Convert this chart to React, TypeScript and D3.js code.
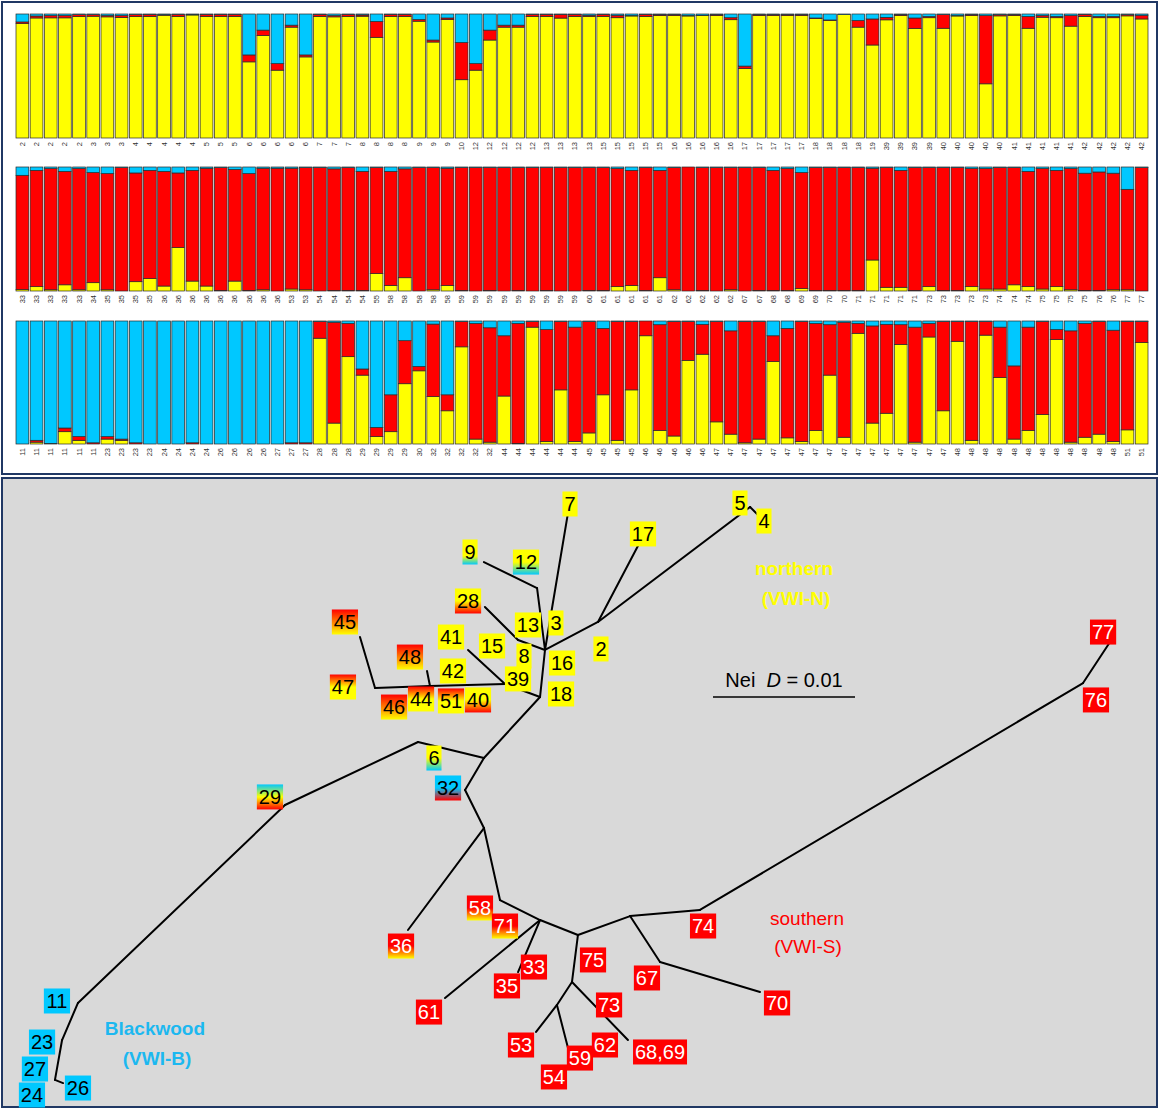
import * as d3 from 'd3';

// ---------- colours ----------
const YEL = '#ffff00';
const RED = '#ff0000';
const CYA = '#00c8ff';
const NAVY = '#203864';
const FONT = '"Liberation Sans", Arial, sans-serif';

// ---------- bar plot data (three rows of 80 individuals) ----------
const row1Groups: [string, number][] = [
  ['2', 5], ['3', 3], ['4', 5], ['5', 3], ['6', 5], ['7', 3], ['8', 4], ['9', 3], ['10', 1],
  ['12', 5], ['13', 4], ['15', 5], ['16', 5], ['17', 5], ['18', 4], ['19', 1], ['39', 4],
  ['40', 5], ['41', 5], ['42', 5],
];
const row2Groups: [string, number][] = [
  ['33', 5], ['34', 1], ['35', 4], ['36', 9], ['53', 2], ['54', 4], ['55', 1], ['58', 5],
  ['59', 9], ['60', 1], ['61', 5], ['62', 5], ['67', 2], ['68', 2], ['69', 2], ['70', 2],
  ['71', 5], ['73', 5], ['74', 3], ['75', 4], ['76', 2], ['77', 2],
];
const row3Groups: [string, number][] = [
  ['11', 6], ['23', 4], ['24', 4], ['26', 4], ['27', 3], ['28', 3], ['29', 4], ['30', 1],
  ['32', 5], ['44', 6], ['45', 4], ['46', 5], ['47', 17], ['48', 12], ['51', 2],
];

// yellow (bottom) and cyan (top) proportions; red fills the rest
const row1Yellow = [
  .923, .968, .969, .969, .979, .982, .977, .971, .979, .981,
  .99, .981, .992, .981, .981, .981, .614, .827, .547, .894,
  .654, .981, .977, .981, .982, .812, .981, .981, .942, .774,
  .955, .47, .547, .79, .894, .894, .981, .981, .967, .981,
  .98, .981, .97, .984, .981, .987, .987, .984, .987, .987,
  .954, .56, .987, .987, .987, .987, .963, .949, .995, .894,
  .75, .953, .987, .883, .97, .885, .984, .987, .437, .985,
  .987, .885, .974, .97, .902, .981, .97, .97, .985, .96,
];
const row1Cyan = [
  .064, .016, .013, .013, .005, .005, .013, .013, .005, .003,
  .005, .003, .003, .003, .003, .003, .33, .13, .40, .09,
  .33, .003, .013, .003, .008, .06, .003, .003, .045, .21,
  .032, .23, .40, .13, .09, .09, .003, .003, .003, .003,
  .01, .003, .01, .013, .003, .003, .003, .013, .01, .003,
  .03, .42, .003, .003, .003, .003, .032, .048, .005, .053,
  .04, .027, .003, .032, .02, .005, .013, .003, .013, .005,
  .003, .02, .013, .02, .013, .003, .02, .02, .005, .01,
];
const row2Yellow = [
  .013, .035, .01, .05, .01, .067, .01, 0, .075, .10,
  .04, .35, .08, .04, .005, .08, .005, .01, 0, .016,
  .01, 0, .005, .005, .005, .14, .045, .107, 0, .01,
  .045, .005, 0, .005, 0, .005, 0, .005, 0, 0,
  .005, .005, .035, .045, .005, .107, .01, 0, .005, 0,
  .01, 0, .005, .005, .005, .02, .005, .005, .005, .005,
  .25, .03, .03, .005, .035, .005, .005, .035, .016, .016,
  .05, .035, .016, .035, .01, .005, .005, .01, .01, 0,
];
const row2Cyan = [
  .067, .027, .013, .035, .013, .045, .053, .005, .048, .027,
  .035, .048, .027, .01, .005, .02, .053, .01, .01, .01,
  .005, .005, .015, .005, .035, .005, .035, .015, .005, .005,
  .01, .005, .005, .005, .005, .005, .005, .005, .005, .005,
  .005, .005, .013, .027, .005, .027, .005, 0, .005, .005,
  .005, .005, .005, .027, .013, .045, .005, .005, .005, .005,
  .01, .005, .027, .005, .005, .005, .005, .013, .013, .005,
  .005, .035, .013, .027, .013, .05, .04, .05, .18, .005,
];
const row3Yellow = [
  0, .015, 0, .1, .03, 0, .04, .03, 0, 0,
  0, 0, 0, 0, 0, 0, 0, 0, 0, 0,
  0, .86, .17, .71, .56, .06, .1, .49, .595, .385,
  .27, .79, .04, .015, .39, .005, .95, .02, .44, .02,
  .09, .4, .03, .44, .88, .11, .065, .68, .73, .18,
  .08, .01, .04, .67, .05, .02, .11, .56, .055, .9,
  .17, .25, .81, .015, .87, .27, .835, .03, .885, .54,
  .04, .11, .24, .85, .015, .055, .08, .02, .115, .825,
];
const row3Cyan = [
  1, .97, .995, .87, .94, .99, .94, .96, .99, 1,
  1, 1, .99, 1, 1, 1, 1, 1, 1, .99,
  .99, .005, .01, .02, .39, .865, .6, .16, .37, .025,
  .6, .005, .02, .055, .12, .02, .005, .07, .005, .05,
  .005, .06, .005, .005, 0, .03, .005, .005, .027, .005,
  .08, .005, .005, .12, .06, .005, .02, .03, .01, .02,
  .04, .027, .03, .05, .02, .005, .005, .005, .005, .05,
  .365, .05, .005, .07, .08, .02, .005, .075, .005, .005,
];

// ---------- tree data (units of 0.001 Nei D) ----------
const treeNodes: [string, number, number][] = [
  ['h1', 37.89, 15.42], ['h0', 33.94, 19.72], ['b6', 29.30, 18.59], ['b29', 19.93, 23.03],
  ['bw', 5.35, 36.97], ['bw2', 4.23, 39.58], ['bw3', 3.73, 42.39], ['bw4', 4.30, 42.61],
  ['c32', 32.61, 21.97], ['c2', 33.94, 24.65], ['L36', 28.59, 31.83], ['s1', 35.07, 29.72],
  ['s2', 37.89, 31.13], ['L61', 31.20, 36.62], ['L35', 36.34, 34.79], ['s3', 40.56, 32.18],
  ['s8', 40.14, 35.49], ['n54', 39.08, 37.11], ['L53', 37.61, 39.01], ['L54', 39.86, 40.14],
  ['L68', 44.08, 39.58], ['s4', 44.23, 30.85], ['s5', 49.15, 30.42], ['s6', 76.13, 14.44],
  ['L77', 78.03, 11.55], ['s7', 46.34, 34.08], ['L70', 53.38, 36.20],
  ['n1', 38.24, 12.11], ['L7', 40.07, 1.20], ['n2', 41.97, 10.14], ['L17', 44.93, 4.51],
  ['n4', 52.68, 2.04], ['L4', 53.59, 2.96], ['n5', 37.68, 7.75], ['L9', 33.94, 5.92],
  ['n3', 36.34, 11.41], ['L28', 34.01, 9.08], ['n6', 35.42, 14.51], ['n7', 26.27, 14.79],
  ['n8', 30.14, 14.65], ['L48', 29.93, 13.59], ['L45', 25.21, 11.20], ['L41', 32.82, 12.11],
];
const treeEdges: [string, string][] = [
  ['h1', 'h0'], ['h0', 'b6'], ['b6', 'b29'], ['b29', 'bw'], ['bw', 'bw2'], ['bw2', 'bw3'],
  ['bw3', 'bw4'], ['h0', 'c32'], ['c32', 'c2'], ['c2', 'L36'], ['c2', 's1'], ['s1', 's2'],
  ['s2', 'L61'], ['s2', 'L35'], ['s2', 's3'], ['s3', 's8'], ['s8', 'n54'], ['n54', 'L53'],
  ['n54', 'L54'], ['s8', 'L68'], ['s3', 's4'], ['s4', 's5'], ['s5', 's6'], ['s6', 'L77'],
  ['s4', 's7'], ['s7', 'L70'], ['h1', 'n1'], ['n1', 'L7'], ['n1', 'n2'], ['n2', 'L17'],
  ['n2', 'n4'], ['n4', 'L4'], ['n1', 'n5'], ['n5', 'L9'], ['n1', 'n3'], ['n3', 'L28'],
  ['h1', 'n6'], ['n6', 'n8'], ['n8', 'n7'], ['n7', 'L45'], ['n8', 'L48'], ['n6', 'L41'],
];
// population label, position, ancestry colours top->bottom (Y/R/C), white text?
const popLabels: [string, number, number, string, boolean][] = [
  ['7', 40.0, 1.83, 'Y', false], ['17', 45.14, 3.94, 'Y', false], ['5', 51.97, 1.76, 'Y', false],
  ['4', 53.66, 3.03, 'Y', false], ['9', 32.96, 5.21, 'YYYC', false], ['12', 36.90, 5.92, 'YYC', false],
  ['28', 32.82, 8.66, 'YYR', false], ['13', 37.04, 10.35, 'Y', false], ['3', 39.01, 10.21, 'Y', false],
  ['15', 34.51, 11.83, 'Y', false], ['41', 31.62, 11.20, 'Y', false], ['8', 36.76, 12.54, 'Y', false],
  ['16', 39.44, 13.03, 'Y', false], ['2', 42.18, 12.04, 'Y', false], ['42', 31.76, 13.59, 'Y', false],
  ['39', 36.34, 14.15, 'Y', false], ['18', 39.37, 15.21, 'Y', false], ['48', 28.73, 12.61, 'RY', false],
  ['45', 24.15, 10.14, 'RY', false], ['47', 24.01, 14.72, 'RYY', false], ['46', 27.61, 16.13, 'RY', false],
  ['44', 29.51, 15.56, 'RYY', false], ['51', 31.62, 15.70, 'RYY', false], ['40', 33.52, 15.63, 'YYR', false],
  ['6', 30.42, 19.72, 'YYC', false], ['32', 31.41, 21.83, 'CCR', false], ['29', 18.87, 22.46, 'CYR', false],
  ['58', 33.66, 30.28, 'RRY', true], ['71', 35.42, 31.55, 'RRY', true], ['36', 28.10, 32.96, 'RRY', true],
  ['33', 37.46, 34.44, 'R', true], ['35', 35.56, 35.77, 'R', true], ['61', 30.07, 37.61, 'R', true],
  ['75', 41.62, 33.94, 'R', true], ['73', 42.75, 37.11, 'R', true], ['53', 36.55, 39.93, 'R', true],
  ['62', 42.46, 39.93, 'R', true], ['54', 38.87, 42.18, 'R', true], ['59', 40.70, 40.85, 'R', true],
  ['68,69', 46.34, 40.42, 'R', true], ['67', 45.42, 35.21, 'R', true], ['70', 54.58, 36.97, 'R', true],
  ['74', 49.37, 31.55, 'R', true], ['76', 77.04, 15.63, 'R', true], ['77', 77.54, 10.85, 'R', true],
  ['11', 3.87, 36.83, 'C', false], ['23', 2.82, 39.72, 'C', false], ['27', 2.32, 41.62, 'C', false],
  ['24', 2.11, 43.45, 'C', false], ['26', 5.35, 42.96, 'C', false],
];
const regionLabels: [string, number, number, string, boolean][] = [
  ['northern', 55.77, 6.34, YEL, true], ['(VWI-N)', 55.92, 8.45, YEL, true],
  ['southern', 56.69, 30.99, RED, false], ['(VWI-S)', 56.76, 32.96, RED, false],
  ['Blackwood', 10.77, 38.73, '#1cb8f0', true], ['(VWI-B)', 10.92, 40.85, '#1cb8f0', true],
];
const scaleBarStart = 50.07;
const scaleBarLength = 10; // 0.01 D
const scaleBarY = 15.42;

const colorOf: Record<string, string> = { Y: YEL, R: RED, C: CYA };

const expand = (g: [string, number][]) => g.flatMap(([p, n]) => Array(n).fill(p) as string[]);

const rows = [
  { labels: expand(row1Groups), yellow: row1Yellow, cyan: row1Cyan, top: 14, bottom: 138 },
  { labels: expand(row2Groups), yellow: row2Yellow, cyan: row2Cyan, top: 167, bottom: 291 },
  { labels: expand(row3Groups), yellow: row3Yellow, cyan: row3Cyan, top: 321, bottom: 444 },
];

function BarRow({ row }: { row: typeof rows[number] }) {
  const n = row.labels.length;
  const x = d3.scaleBand<number>().domain(d3.range(n)).range([16, 1148]).paddingInner(0.1);
  const y = d3.scaleLinear().domain([0, 1]).range([row.bottom, row.top]);
  const table = d3.range(n).map(i => ({
    yellow: row.yellow[i],
    cyan: row.cyan[i],
    red: Math.max(0, 1 - row.yellow[i] - row.cyan[i]),
  }));
  const series = d3.stack<any>().keys(['yellow', 'red', 'cyan'])(table);
  const fills: Record<string, string> = { yellow: YEL, red: RED, cyan: CYA };
  return (
    <g>
      {series.map(s => (
        <g key={s.key} fill={fills[s.key]}>
          {s.map((d, i) =>
            d[1] - d[0] > 0.0005 ? (
              <rect key={i} x={x(i)} y={y(d[1])} width={x.bandwidth()}
                height={y(d[0]) - y(d[1])} stroke="#2a2a2a" strokeWidth={0.7} />
            ) : null
          )}
        </g>
      ))}
      {row.labels.map((l, i) => (
        <text key={i} transform={`translate(${x(i)! + x.bandwidth() / 2},${row.bottom + 4}) rotate(-90)`}
          textAnchor="end" dominantBaseline="central" fontSize={7.5} fill="#333" fontFamily={FONT}>
          {l}
        </text>
      ))}
    </g>
  );
}

export default function App() {
  const tx = d3.scaleLinear().domain([0, 81.3]).range([2, 2 + 81.3 * 14.2]);
  const ty = d3.scaleLinear().domain([0, 44.3]).range([478, 478 + 44.3 * 14.2]);
  const nodeMap = new Map(treeNodes.map(([id, u, v]) => [id, [u, v]]));
  const textW = (s: string) => s.replace(/,/g, '').length * 11.1 + (s.match(/,/g) || []).length * 5.6 + 4;

  return (
    <div style={{ position: 'absolute', left: 0, top: 0 }}>
      <svg width={1160} height={1110} style={{ display: 'block' }}>
        <defs>
          {popLabels.map(([, , , code], i) => {
            const cols = code.split('').map(c => colorOf[c]);
            return (
              <linearGradient key={i} id={`pg${i}`} x1="0" y1="0" x2="0" y2="1">
                {cols.map((c, j) => (
                  <stop key={j} offset={cols.length === 1 ? 0 : j / (cols.length - 1)} stopColor={c} />
                ))}
              </linearGradient>
            );
          })}
        </defs>
        <rect x={0} y={0} width={1160} height={1110} fill="#fff" />
        {/* top panel */}
        <rect x={2} y={2} width={1155} height={472} fill="#fff" stroke={NAVY} strokeWidth={2} />
        {rows.map((r, i) => <BarRow key={i} row={r} />)}

        {/* tree panel */}
        <rect x={2} y={478} width={1155} height={629} fill="#d9d9d9" stroke={NAVY} strokeWidth={2} />
        <g stroke="#000" strokeWidth={2} strokeLinecap="round">
          {treeEdges.map(([a, b], i) => {
            const p = nodeMap.get(a)!, q = nodeMap.get(b)!;
            return <line key={i} x1={tx(p[0])} y1={ty(p[1])} x2={tx(q[0])} y2={ty(q[1])} />;
          })}
        </g>
        {popLabels.map(([lab, u, v, , white], i) => {
          const w = textW(lab);
          return (
            <g key={lab} transform={`translate(${tx(u)},${ty(v)})`}>
              <rect x={-w / 2} y={-12.5} width={w} height={25} fill={`url(#pg${i})`} />
              <text textAnchor="middle" dy="0.36em" fontSize={20} fontFamily={FONT}
                fill={white ? '#fff' : '#000'}>{lab}</text>
            </g>
          );
        })}
        {regionLabels.map(([t, u, v, c, b], i) => (
          <text key={i} x={tx(u)} y={ty(v)} textAnchor="middle" dy="0.36em" fontSize={19}
            fontWeight={b ? 'bold' : 'normal'} fill={c} fontFamily={FONT}>{t}</text>
        ))}
        <line x1={tx(scaleBarStart)} x2={tx(scaleBarStart + scaleBarLength)} y1={ty(scaleBarY)} y2={ty(scaleBarY)}
          stroke="#000" strokeWidth={1.5} />
        <text x={tx(scaleBarStart + scaleBarLength / 2)} y={ty(scaleBarY) - 17} textAnchor="middle"
          dy="0.36em" fontSize={20} fontFamily={FONT} fill="#000" xmlSpace="preserve">
          Nei  <tspan fontStyle="italic">D</tspan> = 0.01
        </text>
      </svg>
    </div>
  );
}
